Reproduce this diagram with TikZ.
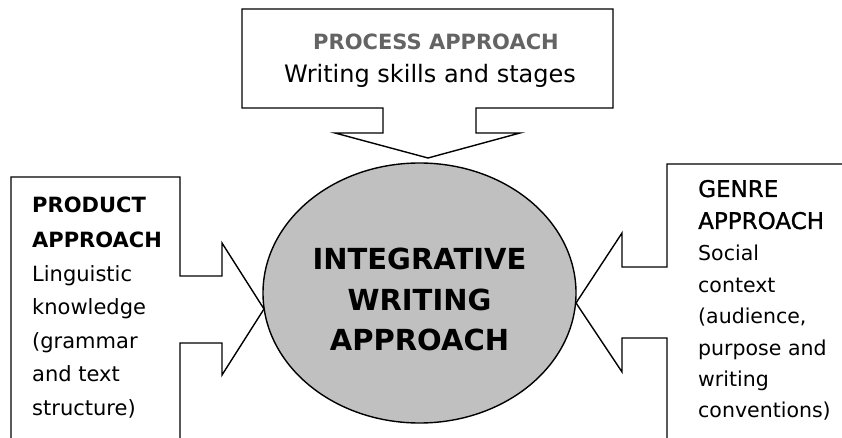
\documentclass[tikz,border=0pt]{standalone}
\usepackage{fontspec}
\setmainfont{DejaVu Sans}
\newfontfamily\semibold[FakeBold=1.2]{DejaVu Sans}
\definecolor{procgray}{RGB}{100,100,100}
\definecolor{ellfill}{RGB}{192,192,192}
\begin{document}
\begin{tikzpicture}[x=1pt,y=-1pt,
  outline/.style={draw=black,line width=1.4pt,line join=miter},
  lbl/.style={inner sep=0pt,anchor=base west},
  ctr/.style={inner sep=0pt,anchor=base},
  body/.style={font=\fontsize{21}{25}\selectfont},
  bodyr/.style={font=\fontsize{20.5}{25}\selectfont},
  headb/.style={font=\fontsize{21}{25}\selectfont\bfseries},
  headr/.style={font=\fontsize{23}{27}\semibold},
  center/.style={font=\fontsize{29}{33}\selectfont\bfseries}]
\useasboundingbox (0,0) rectangle (842,438);
\clip (0,0) rectangle (842,438);
% central ellipse
\draw[outline,fill=ellfill] (419.5,293) ellipse [x radius=156.5, y radius=130];
\node[ctr,center] (c1) at (419.5,269) {INTEGRATIVE};
\node[ctr,center] (c2) at (419.5,310) {WRITING};
\node[ctr,center] (c3) at (419.5,350) {APPROACH};
% top callout
\draw[outline,fill=white] (242,9) -- (613,9) -- (613,108) -- (476,108) -- (476,133) -- (520,133)
  -- (428,158) -- (335,133) -- (383,133) -- (383,108) -- (242,108) -- cycle;
\node[ctr,font=\fontsize{21}{25}\selectfont\bfseries,text=procgray] (t1) at (436,50) {PROCESS APPROACH};
\node[ctr,font=\fontsize{24}{28}\selectfont] (t2) at (430,83) {Writing skills and stages};
% left callout
\draw[outline,fill=white] (11,450) -- (11,177) -- (180,177) -- (180,276) -- (222,276) -- (222,243)
  -- (264,309) -- (222,375) -- (222,343) -- (180,343) -- (180,450);
\node[lbl,headb] (l1) at (32,213) {PRODUCT};
\node[lbl,headb] (l2) at (32,247) {APPROACH};
\node[lbl,body] (l3) at (32,281) {Linguistic};
\node[lbl,body] (l4) at (32,314) {knowledge};
\node[lbl,body] (l5) at (32,348) {(grammar};
\node[lbl,body] (l6) at (32,381) {and text};
\node[lbl,body] (l7) at (32,415) {structure)};
% right callout
\draw[outline,fill=white] (667,450) -- (667,338) -- (622,338) -- (622,372) -- (576,303) -- (622,233)
  -- (622,267) -- (667,267) -- (667,164) -- (850,164);
\node[lbl,headr] (r1) at (698,197) {GENRE};
\node[lbl,headr] (r2) at (698,229) {APPROACH};
\node[lbl,bodyr] (r3) at (698,260) {Social};
\node[lbl,bodyr] (r4) at (698,292) {context};
\node[lbl,bodyr] (r5) at (698,323) {(audience,};
\node[lbl,bodyr] (r6) at (698,355) {purpose and};
\node[lbl,bodyr] (r7) at (698,386) {writing};
\node[lbl,bodyr] (r8) at (698,417) {conventions)};
\end{tikzpicture}
\end{document}
